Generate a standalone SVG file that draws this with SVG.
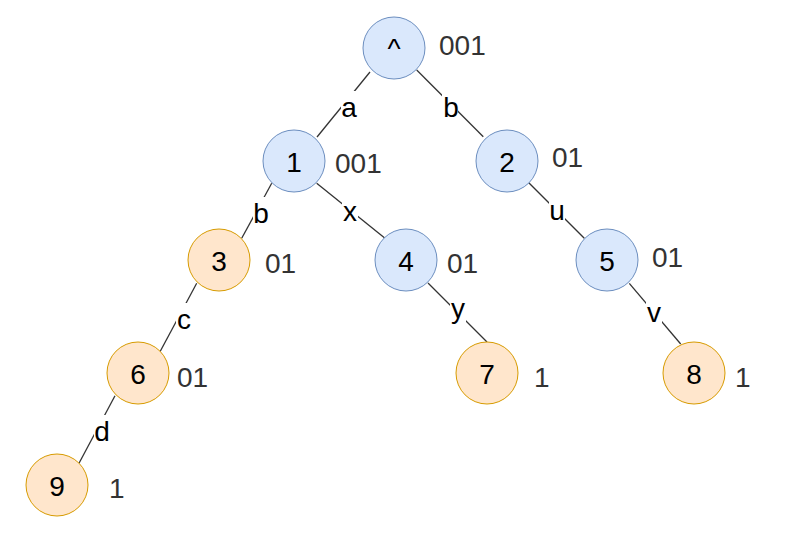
<svg xmlns="http://www.w3.org/2000/svg" width="794" height="544" viewBox="0 0 794 544">
<style>
text{font-family:"Liberation Sans",Arial,sans-serif;font-size:28px}
.blue{fill:#dae8fc;stroke:#6c8ebf;stroke-width:1}
.orange{fill:#ffe6cc;stroke:#d79b00;stroke-width:1}
.nl{fill:#000;text-anchor:middle}
.side{fill:#333}
.el{fill:#000;text-anchor:middle}
.bg{fill:#fff}
.edge{stroke:#333;stroke-width:1.3;fill:none}
</style>
<rect width="794" height="544" fill="#fff"/>
<g id="connectors">
<line class="edge" x1="370" y1="72" x2="317" y2="137"/>
<line class="edge" x1="416.7" y1="70" x2="483.3" y2="136.7"/>
<line class="edge" x1="271.7" y1="183.3" x2="241.7" y2="238.3"/>
<line class="edge" x1="316.7" y1="183.3" x2="385" y2="238.3"/>
<line class="edge" x1="196.7" y1="283.3" x2="160" y2="351.7"/>
<line class="edge" x1="115" y1="395.7" x2="79" y2="463.3"/>
<line class="edge" x1="528.3" y1="182.3" x2="584.3" y2="238.3"/>
<line class="edge" x1="428" y1="283" x2="487" y2="342"/>
<line class="edge" x1="629.3" y1="283.3" x2="680.7" y2="344"/>
<rect class="bg" x="341" y="91" width="16" height="32"/><text class="el" x="349" y="117">a</text>
<rect class="bg" x="442" y="91" width="16" height="32"/><text class="el" x="451" y="117">b</text>
<rect class="bg" x="253" y="197" width="16" height="32"/><text class="el" x="261" y="223">b</text>
<rect class="bg" x="342" y="195" width="16" height="32"/><text class="el" x="350" y="221">x</text>
<rect class="bg" x="176" y="303" width="15" height="32"/><text class="el" x="184" y="329">c</text>
<rect class="bg" x="94" y="415" width="16" height="32"/><text class="el" x="102" y="441">d</text>
<rect class="bg" x="549" y="194" width="16" height="32"/><text class="el" x="557" y="220">u</text>
<rect class="bg" x="450" y="292" width="16" height="32"/><text class="el" x="458" y="318">y</text>
<rect class="bg" x="646" y="296" width="16" height="32"/><text class="el" x="654" y="322">v</text>
</g>
<g id="node-root"><circle class="blue" cx="394" cy="48" r="31"/><text class="nl" x="394" y="58">^</text><text class="side" x="439" y="55">001</text></g>
<g id="node-1"><circle class="blue" cx="294" cy="161" r="31"/><text class="nl" x="294" y="172">1</text><text class="side" x="335" y="173">001</text></g>
<g id="node-2"><circle class="blue" cx="507" cy="161" r="31"/><text class="nl" x="507" y="172">2</text><text class="side" x="552" y="167">01</text></g>
<g id="node-3"><circle class="orange" cx="219" cy="260" r="31"/><text class="nl" x="219" y="271">3</text><text class="side" x="265" y="273">01</text></g>
<g id="node-4"><circle class="blue" cx="406" cy="260" r="31"/><text class="nl" x="406" y="271">4</text><text class="side" x="447" y="273">01</text></g>
<g id="node-5"><circle class="blue" cx="607" cy="260" r="31"/><text class="nl" x="607" y="271">5</text><text class="side" x="652" y="267">01</text></g>
<g id="node-6"><circle class="orange" cx="138" cy="373" r="31"/><text class="nl" x="138" y="384">6</text><text class="side" x="177" y="387">01</text></g>
<g id="node-7"><circle class="orange" cx="487" cy="373" r="31"/><text class="nl" x="487" y="384">7</text><text class="side" x="534" y="387">1</text></g>
<g id="node-8"><circle class="orange" cx="694" cy="373" r="31"/><text class="nl" x="694" y="384">8</text><text class="side" x="735" y="387">1</text></g>
<g id="node-9"><circle class="orange" cx="57" cy="485" r="31"/><text class="nl" x="57" y="496">9</text><text class="side" x="109" y="498">1</text></g>
</svg>
